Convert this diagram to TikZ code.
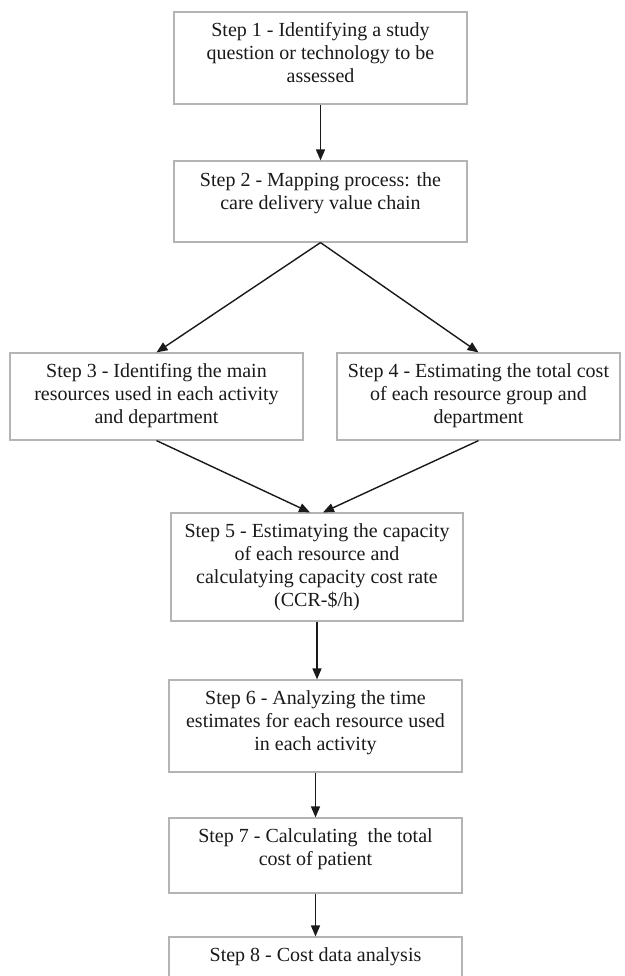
\documentclass[tikz,border=0pt]{standalone}
\usepackage{fontspec}
\setmainfont{Liberation Serif}
\usetikzlibrary{arrows.meta}
\definecolor{boxgray}{HTML}{B4B4B4}
\definecolor{ink}{HTML}{1A1A1A}
\begin{document}
\begin{tikzpicture}[x=1pt,y=-1pt,
  box/.style={draw=boxgray, line width=1.2pt, inner sep=0pt, rectangle, fill=white},
  txt/.style={font=\fontsize{20}{23}\selectfont, align=center, inner sep=0pt, anchor=north, text=ink},
  arr/.style={draw=ink, line width=1.4pt, -{Triangle[length=11pt,width=9pt]}}]
\useasboundingbox (0,0) rectangle (624,976);
\clip (0,0) rectangle (624,976);
\fill[white] (0,0) rectangle (624,976);

\node[box, minimum width=293pt, minimum height=92pt] (b1) at (320.5,58) {};
\node[box, minimum width=293pt, minimum height=81pt] (b2) at (320.5,201.5) {};
\node[box, minimum width=293pt, minimum height=87pt] (b3) at (156.5,396.5) {};
\node[box, minimum width=283pt, minimum height=87pt] (b4) at (478.5,396.5) {};
\node[box, minimum width=292pt, minimum height=108pt] (b5) at (317,567) {};
\node[box, minimum width=293pt, minimum height=92pt] (b6) at (315.5,726) {};
\node[box, minimum width=293pt, minimum height=75pt] (b7) at (315.5,855.5) {};
\node[box, minimum width=293pt, minimum height=73pt] (b8) at (315.5,973.5) {};

\node[txt] (t1) at ([yshift=-11pt]b1.north) {Step 1 - Identifying a study\\question or technology to be\\assessed};
\node[txt] (t2) at ([yshift=-12pt]b2.north) {Step 2 - Mapping process: the\\care delivery value chain};
\node[txt] (t3) at ([yshift=-11pt]b3.north) {Step 3 - Identifing the main\\resources used in each activity\\and department};
\node[txt] (t4) at ([yshift=-11pt]b4.north) {Step 4 - Estimating the total cost\\of each resource group and\\department};
\node[txt] (t5) at ([yshift=-11pt]b5.north) {Step 5 - Estimatying the capacity\\of each resource and\\calculatying capacity cost rate\\(CCR-\$/h)};
\node[txt] (t6) at ([yshift=-11pt]b6.north) {Step 6 - Analyzing the time\\estimates for each resource used\\in each activity};
\node[txt] (t7) at ([yshift=-11pt]b7.north) {Step 7 - Calculating\ \ the total\\cost of patient};
\node[txt] (t8) at ([yshift=-11pt]b8.north) {Step 8 - Cost data analysis};

\draw[arr] (b1.south) -- (b1.south |- b2.north);
\draw[arr] (b2.south) -- (b3.north);
\draw[arr] (b2.south) -- (b4.north);
\draw[arr] (b3.south) -- ([xshift=-7pt]b5.north);
\draw[arr] (b4.south) -- ([xshift=6pt]b5.north);
\draw[arr] (b5.south) -- (b5.south |- b6.north);
\draw[arr] (b6.south) -- (b6.south |- b7.north);
\draw[arr] (b7.south) -- (b7.south |- b8.north);
\end{tikzpicture}
\end{document}
